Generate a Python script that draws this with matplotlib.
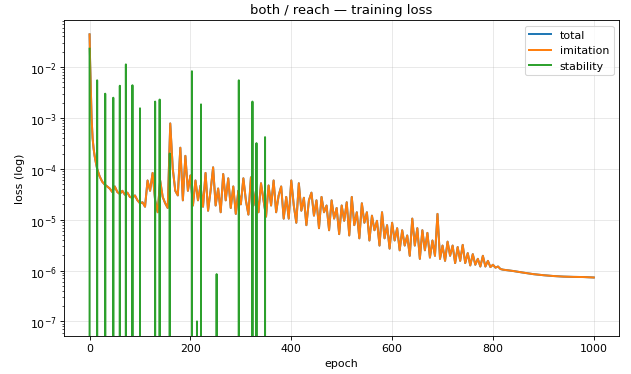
import numpy as np
import matplotlib
matplotlib.use("Agg")
import matplotlib.pyplot as plt

# imitation loss (total sits right under it)
imit_epoch = [0, 1, 2, 3, 4, 6, 8, 10, 12, 15] + list(range(20, 821, 5)) + list(range(840, 1001, 20))
imit_loss = [
    4.4e-2, 1.35e-2, 5.5e-3, 1.9e-3, 1.0e-3, 4.0e-4, 2.5e-4, 1.8e-4, 1.4e-4, 1.0e-4,
    # 20 .. 195
    7.1e-5, 5.6e-5, 4.9e-5, 4.5e-5, 4.1e-5, 3.5e-5, 4.5e-5, 3.5e-5, 3.2e-5, 3.7e-5,
    3.1e-5, 3.4e-5, 2.8e-5, 2.7e-5, 3.0e-5, 2.4e-5, 2.1e-5, 2.2e-5, 1.8e-5, 5.9e-5,
    3.7e-5, 8.3e-5, 2.4e-5, 1.4e-5, 5.9e-5, 2.8e-5, 2.1e-5, 1.7e-5, 7.8e-4, 1.0e-4,
    3.7e-5, 3.0e-5, 2.6e-4, 2.4e-5, 1.8e-4, 3.7e-5,
    # 200 .. 395
    7.4e-5, 1.9e-5, 5.9e-5, 2.4e-5, 4.7e-5, 1.8e-5, 8.3e-5, 1.5e-5, 3.7e-5, 1.07e-4,
    1.9e-5, 4.1e-5, 1.4e-5, 7.9e-5, 2.4e-5, 6.5e-5, 1.7e-5, 4.5e-5, 1.3e-5, 3.7e-5,
    2.0e-5, 6.5e-5, 2.4e-5, 1.26e-5, 6.8e-5, 1.9e-5, 3.7e-5, 1.4e-5, 5.2e-5, 2.4e-5,
    1.15e-5, 4.7e-5, 1.9e-5, 5.9e-5, 1.4e-5, 3.0e-5, 4.5e-5, 1.05e-5, 2.8e-5, 1.05e-5,
    # 400 .. 595
    5.9e-5, 1.9e-5, 8.7e-6, 5.2e-5, 1.5e-5, 2.7e-5, 7.8e-6, 2.4e-5, 3.4e-5, 1.2e-5,
    2.4e-5, 6.8e-6, 2.8e-5, 1.4e-5, 1.9e-5, 6.2e-6, 2.4e-5, 1.05e-5, 1.7e-5, 5.2e-6,
    1.9e-5, 9.5e-6, 2.2e-5, 4.9e-6, 2.8e-5, 7.8e-6, 1.4e-5, 4.3e-6, 2.1e-5, 8.7e-6,
    1.4e-5, 3.9e-6, 1.2e-5, 6.2e-6, 9.5e-6, 3.1e-6, 1.4e-5, 4.3e-6, 7.8e-6, 2.7e-6,
    # 600 .. 795
    8.7e-6, 3.9e-6, 6.8e-6, 2.5e-6, 6.2e-6, 3.1e-6, 4.9e-6, 1.95e-6, 1.05e-5, 3.1e-6,
    6.8e-6, 1.7e-6, 6.2e-6, 2.5e-6, 5.5e-6, 1.8e-6, 3.9e-6, 1.95e-6, 1.3e-5, 1.7e-6,
    3.1e-6, 1.55e-6, 3.7e-6, 1.95e-6, 3.1e-6, 1.4e-6, 2.9e-6, 1.55e-6, 3.2e-6, 1.4e-6,
    2.2e-6, 1.26e-6, 2.1e-6, 1.3e-6, 1.7e-6, 1.2e-6, 1.95e-6, 1.2e-6, 1.55e-6, 1.17e-6,
    # 800 .. 820
    1.3e-6, 1.14e-6, 1.2e-6, 1.07e-6, 1.04e-6,
    # 840 .. 1000
    9.8e-7, 9.1e-7, 8.5e-7, 8.1e-7, 7.8e-7, 7.6e-7, 7.5e-7, 7.45e-7, 7.3e-7,
]
total_loss = list(imit_loss)

# stability loss: zero except these epochs
stab_epoch = [0, 15, 31, 47, 60, 72, 85, 100, 130, 139, 159, 203, 213, 221, 252, 296, 323, 331, 348]
stab_value = [2.3e-2, 5.5e-3, 3.0e-3, 2.5e-3, 4.3e-3, 1.13e-2, 4.4e-3, 1.55e-3, 2.1e-3, 2.3e-3,
              2.0e-4, 8.3e-3, 1.0e-7, 1.85e-3, 8.5e-7, 5.5e-3, 2.1e-3, 3.2e-4, 4.2e-4]
n_epochs = 1001


def main():
    stab = np.zeros(n_epochs)
    stab[stab_epoch] = stab_value

    fig = plt.figure(figsize=(8, 4.754), dpi=78.875)
    ax = fig.add_subplot(111)
    ax.plot(imit_epoch, total_loss, label='total', lw=1.8)
    ax.plot(imit_epoch, imit_loss, label='imitation', lw=1.8)
    ax.plot(np.arange(n_epochs), stab, label='stability', lw=1.8)
    ax.set_yscale('log')
    ax.set_xlabel('epoch')
    ax.set_ylabel('loss (log)')
    ax.set_title('both / reach \u2014 training loss')
    ax.grid(True, alpha=0.3)
    ax.legend(loc='upper right')
    fig.subplots_adjust(left=0.102, right=0.981, top=0.944, bottom=0.102)
    fig.savefig('out.png', dpi=78.875)


if __name__ == '__main__':
    main()
